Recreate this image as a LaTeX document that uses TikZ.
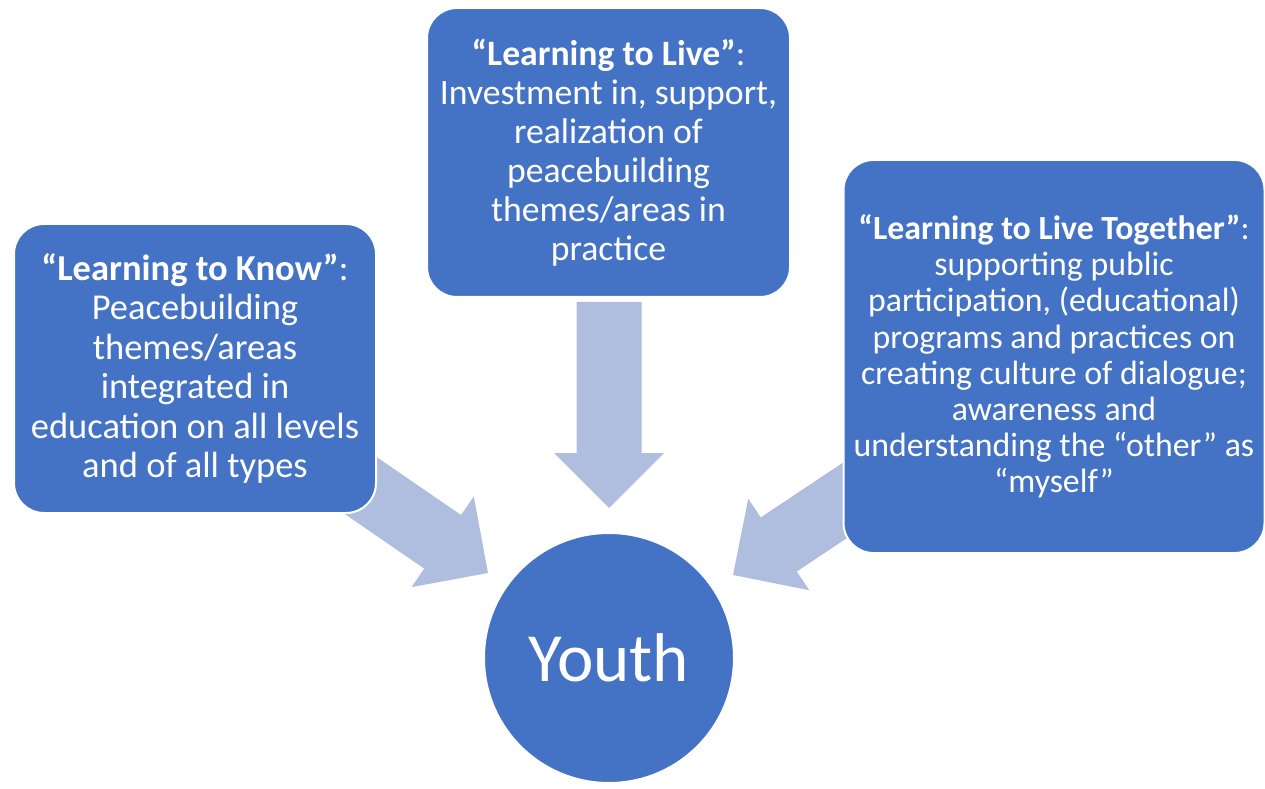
\documentclass[tikz,border=0pt]{standalone}
\usepackage{fontspec}
\setmainfont{Carlito}
\definecolor{boxblue}{RGB}{68,114,196}
\definecolor{arrowblue}{RGB}{175,189,222}
\tikzset{
  infobox/.style={rectangle, fill=boxblue, draw=white, line width=2pt,
    rounded corners=30pt, text=white, align=center, inner sep=0pt},
  youthnode/.style={circle, fill=boxblue, draw=white, line width=2pt,
    text=white, minimum size=250pt, inner sep=0pt,
    font=\fontsize{69}{72}\selectfont},
  blockarrow/.pic={
    \fill[arrowblue] (0,32.5) -- (151,32.5) -- (151,55) -- (206,0)
      -- (151,-55) -- (151,-32.5) -- (0,-32.5) -- cycle;
  }
}
\begin{document}
\begin{tikzpicture}[x=1pt,y=1pt]
\useasboundingbox (0,0) rectangle (1265,788);
% arrow anchors
\coordinate (kback) at (318.2,331.7);
\coordinate (lback) at (609,486);
\coordinate (tback) at (904.4,327.3);
\pic[rotate=-34.5] at (kback) {blockarrow};
\pic[rotate=-90] at (lback) {blockarrow};
\pic[rotate=-146.3] at (tback) {blockarrow};
% boxes
\node[infobox, minimum width=362pt, minimum height=289pt,
  font=\fontsize{36.5}{39.5}\selectfont] (know) at (195,419.5)
  {\textbf{“Learning to Know”}:\\Peacebuilding\\themes/areas\\integrated in\\education on all levels\\and of all types};
\node[infobox, minimum width=363pt, minimum height=289pt,
  font=\fontsize{35.7}{39}\selectfont] (live) at (608.5,635.5)
  {\textbf{“Learning to Live”}:\\Investment in, support,\\realization of\\peacebuilding\\themes/areas in\\practice};
\node[infobox, minimum width=421pt, minimum height=393pt,
  font=\fontsize{33.8}{36.2}\selectfont] (together) at (1054,431.5)
  {\textbf{“Learning to Live Together”}:\\supporting public\\participation, (educational)\\programs and practices on\\creating culture of dialogue;\\awareness and\\understanding the “other” as\\“myself”};
\node[youthnode] (youth) at (609,130) {Youth};
\end{tikzpicture}
\end{document}
